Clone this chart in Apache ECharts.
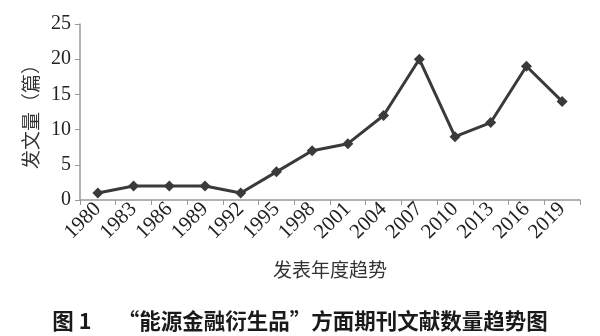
<!DOCTYPE html>
<html><head><meta charset="utf-8">
<script src="https://cdn.jsdelivr.net/npm/echarts@6/dist/echarts.min.js"></script>
<style>html,body{margin:0;padding:0;background:#fff}#c{width:600px;height:336px}</style>
</head><body><div id="c"></div>
<script>
const years = ['1980','1983','1986','1989','1992','1995','1998','2001','2004','2007','2010','2013','2016','2019'];
const counts = [1,2,2,2,1,4,7,8,12,20,9,11,19,14];
const yTicks = {min:0, max:25, interval:5};
const yName = '发文量（篇）';
const xName = '发表年度趋势';
const caption = '图 1　 “能源金融衍生品”方面期刊文献数量趋势图';

const chart = echarts.init(document.getElementById('c'), null, {renderer:'canvas'});
chart.setOption({
  animation:false,
  backgroundColor:'#fff',
  grid:{left:80, right:20, top:24, bottom:136, containLabel:false},
  title:{text:caption, left:'center', top:305, textStyle:{fontFamily:'Noto Sans CJK SC', fontSize:21.5, fontWeight:'bold', color:'#1a1a1a'}},
  xAxis:{type:'category', data:years, boundaryGap:true,
    name:xName, nameLocation:'middle', nameGap:60,
    nameTextStyle:{fontFamily:'Noto Sans CJK SC', fontSize:19, color:'#333'},
    axisLine:{lineStyle:{color:'#999', width:1.5}},
    axisTick:{show:true, alignWithLabel:false, length:5, lineStyle:{color:'#999'}},
    axisLabel:{rotate:45, fontFamily:'Liberation Serif', fontSize:21, color:'#222', margin:6, interval:0}},
  yAxis:{type:'value', min:yTicks.min, max:yTicks.max, interval:yTicks.interval,
    name:yName, nameLocation:'middle', nameGap:36, nameRotate:90,
    nameTextStyle:{fontFamily:'Noto Sans CJK SC', fontSize:19, color:'#333'},
    splitLine:{show:false},
    axisLine:{show:true, lineStyle:{color:'#999', width:1.5}},
    axisTick:{show:true, length:5, lineStyle:{color:'#999'}},
    axisLabel:{fontFamily:'Liberation Serif', fontSize:20, color:'#222', margin:9}},
  series:[{type:'line', data:counts, symbol:'diamond', symbolSize:11,
    lineStyle:{color:'#3a3a3a', width:3}, itemStyle:{color:'#3a3a3a'}}]
});
</script></body></html>
